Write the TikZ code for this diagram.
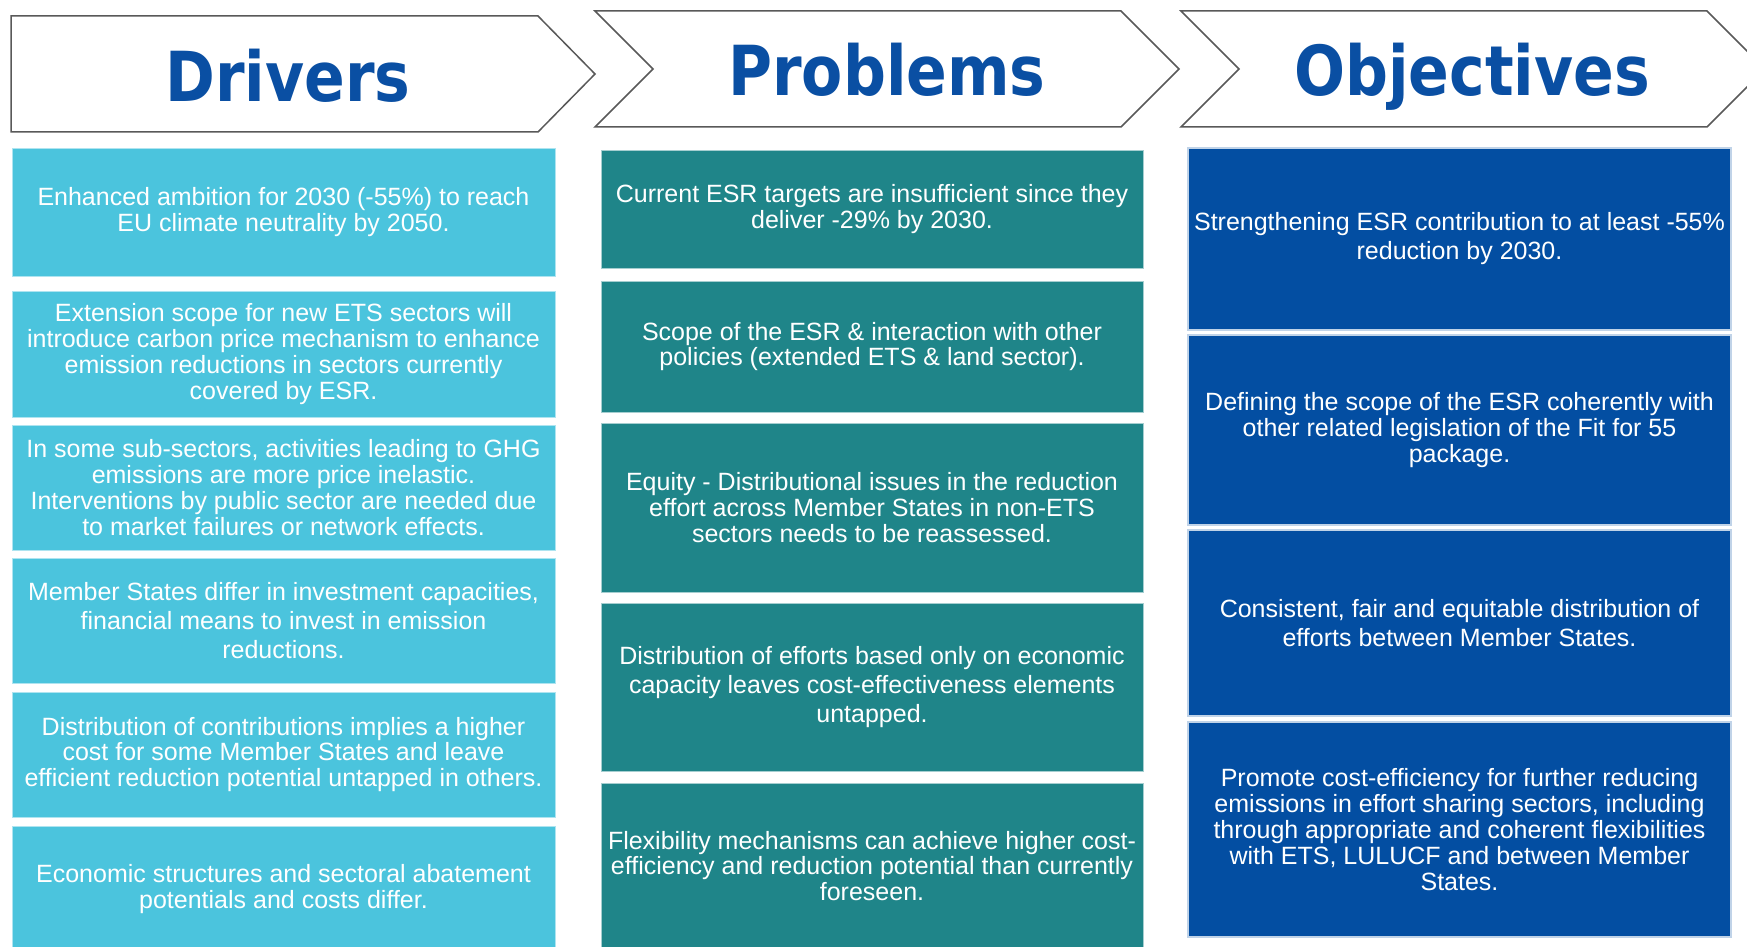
\documentclass[tikz,border=0pt]{standalone}
\usepackage{fontspec}
\setmainfont{Liberation Sans}
\newfontfamily\headfont[FakeStretch=0.87]{DejaVu Sans Bold}
\definecolor{drvcyan}{HTML}{4BC4DD}
\definecolor{prbteal}{HTML}{1F8589}
\definecolor{objblue}{HTML}{034EA2}
\definecolor{headblue}{HTML}{0A4FA3}
\definecolor{rimgray}{HTML}{595959}

\begin{document}
\begin{tikzpicture}[x=1pt, y=-1pt,
    head/.style={font=\headfont\fontsize{69}{75}\selectfont, text=headblue, anchor=base, inner sep=0pt},
    chevron/.style={draw=rimgray, line width=1.5pt, fill=white},
    card/.style={minimum width=543pt, inner sep=0pt, align=center, text=white, font=\fontsize{25}{25.8}\selectfont},
    wide/.style={font=\fontsize{25}{29}\selectfont},
    drv/.style={card, fill=drvcyan, draw=drvcyan!45!white, line width=1pt},
    prb/.style={card, fill=prbteal, draw=prbteal!40!white, line width=1pt, minimum width=542pt},
    obj/.style={card, fill=objblue, draw=objblue!25!white, line width=2pt}]
    \useasboundingbox (0,0) rectangle (1747,947);

    % headers
    \draw[chevron] (11,16) -- (538,16) -- (595,74) -- (538,132) -- (11,132) -- cycle;
    \draw[chevron] (595,11) -- (1121,11) -- (1179,69) -- (1121,127) -- (595,127) -- (653,69) -- cycle;
    \draw[chevron] (1181,11) -- (1707,11) -- (1765,69) -- (1707,127) -- (1181,127) -- (1239,69) -- cycle;
    \node[head] (hdrv) at (288,102) {Drivers};
    \node[head] (hprb) at (887,96) {Problems};
    \node[head] (hobj) at (1472,96) {Objectives};

    % drivers
    \node[drv, minimum height=128pt] (d1) at (283.5,212) {Enhanced ambition for 2030 (-55\%) to reach\\EU climate neutrality by 2050.};
    \node[drv, minimum height=126pt] (d2) at (283.5,354) {Extension scope for new ETS sectors will\\introduce carbon price mechanism to enhance\\emission reductions in sectors currently\\covered by ESR.};
    \node[drv, minimum height=125pt] (d3) at (283.5,487.5) {In some sub-sectors, activities leading to GHG\\emissions are more price inelastic.\\Interventions by public sector are needed due\\to market failures or network effects.};
    \node[drv, wide, minimum height=125pt] (d4) at (283.5,620.5) {Member States differ in investment capacities,\\financial means to invest in emission\\reductions.};
    \node[drv, minimum height=125pt] (d5) at (283.5,754.5) {Distribution of contributions implies a higher\\cost for some Member States and leave\\efficient reduction potential untapped in others.};
    \node[drv, minimum height=126pt] (d6) at (283.5,889) {Economic structures and sectoral abatement\\potentials and costs differ.};

    % problems
    \node[prb, minimum height=118pt] (p1) at (872,209) {Current ESR targets are insufficient since they\\deliver -29\% by 2030.};
    \node[prb, minimum height=131pt] (p2) at (872,346.5) {Scope of the ESR \& interaction with other\\policies (extended ETS \& land sector).};
    \node[prb, minimum height=169pt] (p3) at (872,507.5) {Equity - Distributional issues in the reduction\\effort across Member States in non-ETS\\sectors needs to be reassessed.};
    \node[prb, wide, minimum height=168pt] (p4) at (872,687) {Distribution of efforts based only on economic\\capacity leaves cost-effectiveness elements\\untapped.};
    \node[prb, minimum height=166pt] (p5) at (872,866) {Flexibility mechanisms can achieve higher cost-\\efficiency and reduction potential than currently\\foreseen.};

    % objectives
    \node[obj, wide, minimum height=182pt] (o1) at (1459.5,239) {Strengthening ESR contribution to at least -55\%\\reduction by 2030.};
    \node[obj, minimum height=190pt] (o2) at (1459.5,430) {Defining the scope of the ESR coherently with\\other related legislation of the Fit for 55\\package.};
    \node[obj, wide, minimum height=186pt] (o3) at (1459.5,623) {Consistent, fair and equitable distribution of\\efforts between Member States.};
    \node[obj, minimum height=215pt] (o4) at (1459.5,829.5) {Promote cost-efficiency for further reducing\\emissions in effort sharing sectors, including\\through appropriate and coherent flexibilities\\with ETS, LULUCF and between Member\\States.};
\end{tikzpicture}
\end{document}
